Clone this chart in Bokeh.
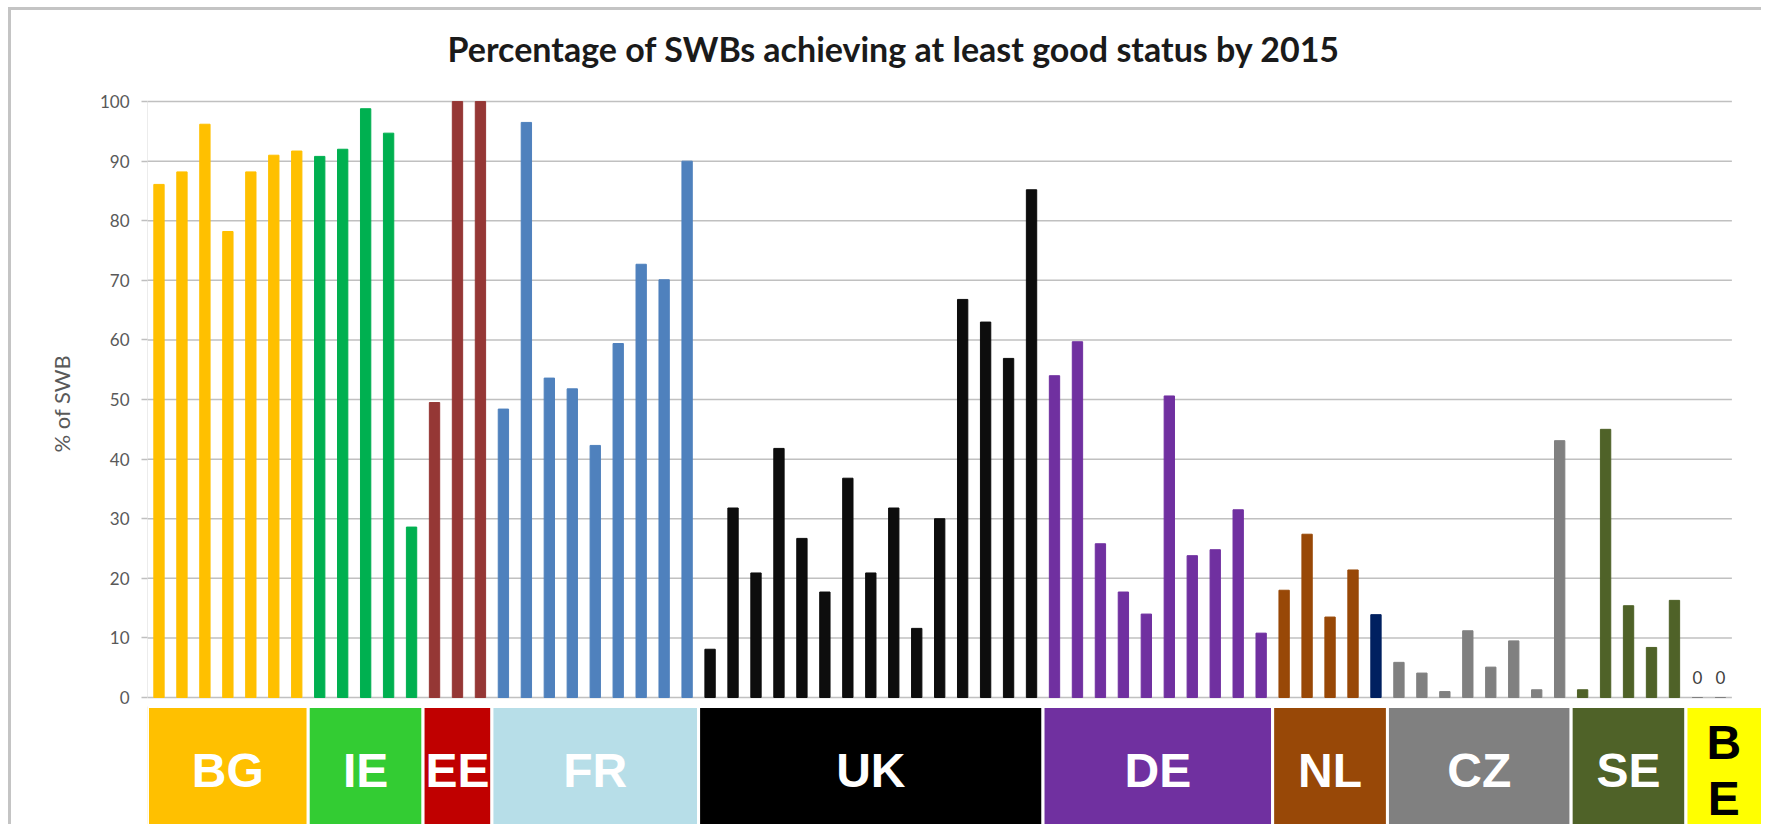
from bokeh.plotting import figure
from bokeh.models import Range1d, FixedTicker, ColumnDataSource, Title
from bokeh.core.properties import value
from bokeh.embed import file_html
from bokeh.resources import INLINE

# ---------------- data ----------------
countries = ["BG", "IE", "EE", "FR", "UK", "DE", "NL", "CZ", "SE", "BE"]
band_labels = ["BG", "IE", "EE", "FR", "UK", "DE", "NL", "CZ", "SE", "B\nE"]

bg = [86.1, 88.2, 96.2, 78.2, 88.2, 91.0, 91.7]
ie = [90.8, 92.0, 98.8, 94.7, 28.6]
ee = [49.5, 100.0, 100.0]
fr = [48.4, 96.5, 53.6, 51.8, 42.3, 59.4, 72.7, 70.1, 90.0]
uk = [8.1, 31.8, 20.9, 41.8, 26.7, 17.7, 36.8, 20.9, 31.8, 11.6, 30.0, 66.8, 63.0, 56.9, 85.2]
de = [54.0, 59.7, 25.8, 17.7, 14.0, 50.6, 23.8, 24.8, 31.5, 10.8]
nl = [18.0, 27.4, 13.5, 21.4, 13.9]
cz = [5.9, 4.1, 1.0, 11.2, 5.1, 9.5, 1.3, 43.1]
se = [1.3, 45.0, 15.4, 8.4, 16.3]
be = [0, 0]

y_ticks = list(range(0, 101, 10))

# ---------------- styles ----------------
bar_colors = {
    "BG": "#FFC000", "IE": "#00B050", "EE": "#953735", "FR": "#4F81BD",
    "UK": "#0D0D0D", "DE": "#7030A0",
    "NL": ["#984807", "#984807", "#984807", "#984807", "#002060"],
    "CZ": "#808080", "SE": "#4F6228", "BE": "#808080",
}
band_colors = ["#FFC000", "#33CC33", "#C00000", "#B7DEE8", "#000000",
               "#7030A0", "#984807", "#808080", "#4F6228", "#FFFF00"]
band_text_colors = ["white"] * 9 + ["black"]

groups = [bg, ie, ee, fr, uk, de, nl, cz, se, be]

xs, tops, cols = [], [], []
band_left, band_right = [], []
i = 0
for name, vals in zip(countries, groups):
    c = bar_colors[name]
    c = c if isinstance(c, list) else [c] * len(vals)
    band_left.append(i - 0.5)
    for v, cc in zip(vals, c):
        xs.append(i)
        tops.append(v)
        cols.append(cc)
        i += 1
    band_right.append(i - 0.5)
n_bars = i

X_END = 69.79
Y_BOTTOM = -21.31
Y_TOP = 105.55
band_right[-1] = X_END + 1
band_center = [(l + r) / 2 for l, r in zip(band_left, band_right)]
band_center[-1] = (band_left[-1] + X_END) / 2

p = figure(frame_width=1614, frame_height=756,
           min_border_left=136, min_border_right=0, min_border_top=58, min_border_bottom=0,
           x_range=Range1d(-0.5, X_END), y_range=Range1d(Y_BOTTOM, Y_TOP),
           x_axis_location=None, output_backend="svg", toolbar_location=None)
p.outline_line_color = None
p.xgrid.visible = False
p.ygrid.visible = False
# light frame of the chart object (left and top edges)
p.styles = {"border-left": "3px solid #C4C4C4", "border-top": "3px solid #C4C4C4",
            "margin-left": "8px", "margin-top": "7px"}

# title
p.title.text = "Percentage of SWBs achieving at least good status by 2015"
p.title.text_font = "Lato"
p.title.text_font_size = "34px"
p.title.text_font_style = "bold"
p.title.text_color = "#1A1A1A"
p.title.align = "left"
p.title.offset = 300
p.title.standoff = 0

# y axis
ax = p.yaxis[0]
ax.ticker = FixedTicker(ticks=y_ticks)
ax.axis_line_color = None
ax.major_tick_line_color = "#BFBFBF"
ax.major_tick_line_width = 1.5
ax.major_tick_out = 6
ax.major_tick_in = 0
ax.minor_tick_line_color = None
ax.major_label_text_font = "Lato"
ax.major_label_text_font_size = "17px"
ax.major_label_text_color = "#595959"
ax.major_label_standoff = 12

# y-axis title, centred on the 0-100 value span (not on the band area)
ylab = Title(text="% of SWB", align="left", offset=372, vertical_align="bottom",
             standoff=44, text_font="Lato", text_font_size="22px",
             text_font_style="normal", text_color="#595959")
p.add_layout(ylab, "left")

# gridlines across the category slots
p.segment(x0=-0.5, x1=n_bars - 0.5, y0=y_ticks, y1=y_ticks,
          line_color="#C0C0C0", line_width=1.5)
p.segment(x0=[-0.5], x1=[-0.5], y0=[0], y1=[100], line_color="#D9D9D9", line_width=1)

# bars
src = ColumnDataSource(dict(x=xs, top=tops, color=cols))
p.vbar(x="x", top="top", bottom=0, width=0.45, color="color", source=src)

# zero-value data labels
zx = [x for x, t in zip(xs, tops) if t == 0]
zt = [str(int(t)) for t in tops if t == 0]
p.text(x=zx, y=[0] * len(zx), text=zt, y_offset=-20,
       text_font=value("Lato"), text_font_size="17px", text_color="#404040",
       text_align="center", text_baseline="middle")

# country bands
p.quad(left=band_left, right=band_right, bottom=Y_BOTTOM - 3, top=-1.5,
       fill_color=band_colors, line_color="white", line_width=3)
p.text(x=band_center, y=[-12.3] * len(band_center), text=band_labels,
       text_font=value("Liberation Sans"), text_font_style="bold",
       text_font_size="48px", text_color=band_text_colors,
       text_align="center", text_baseline="middle", text_line_height=1.06)

open("out.html", "w").write(file_html(p, INLINE))
